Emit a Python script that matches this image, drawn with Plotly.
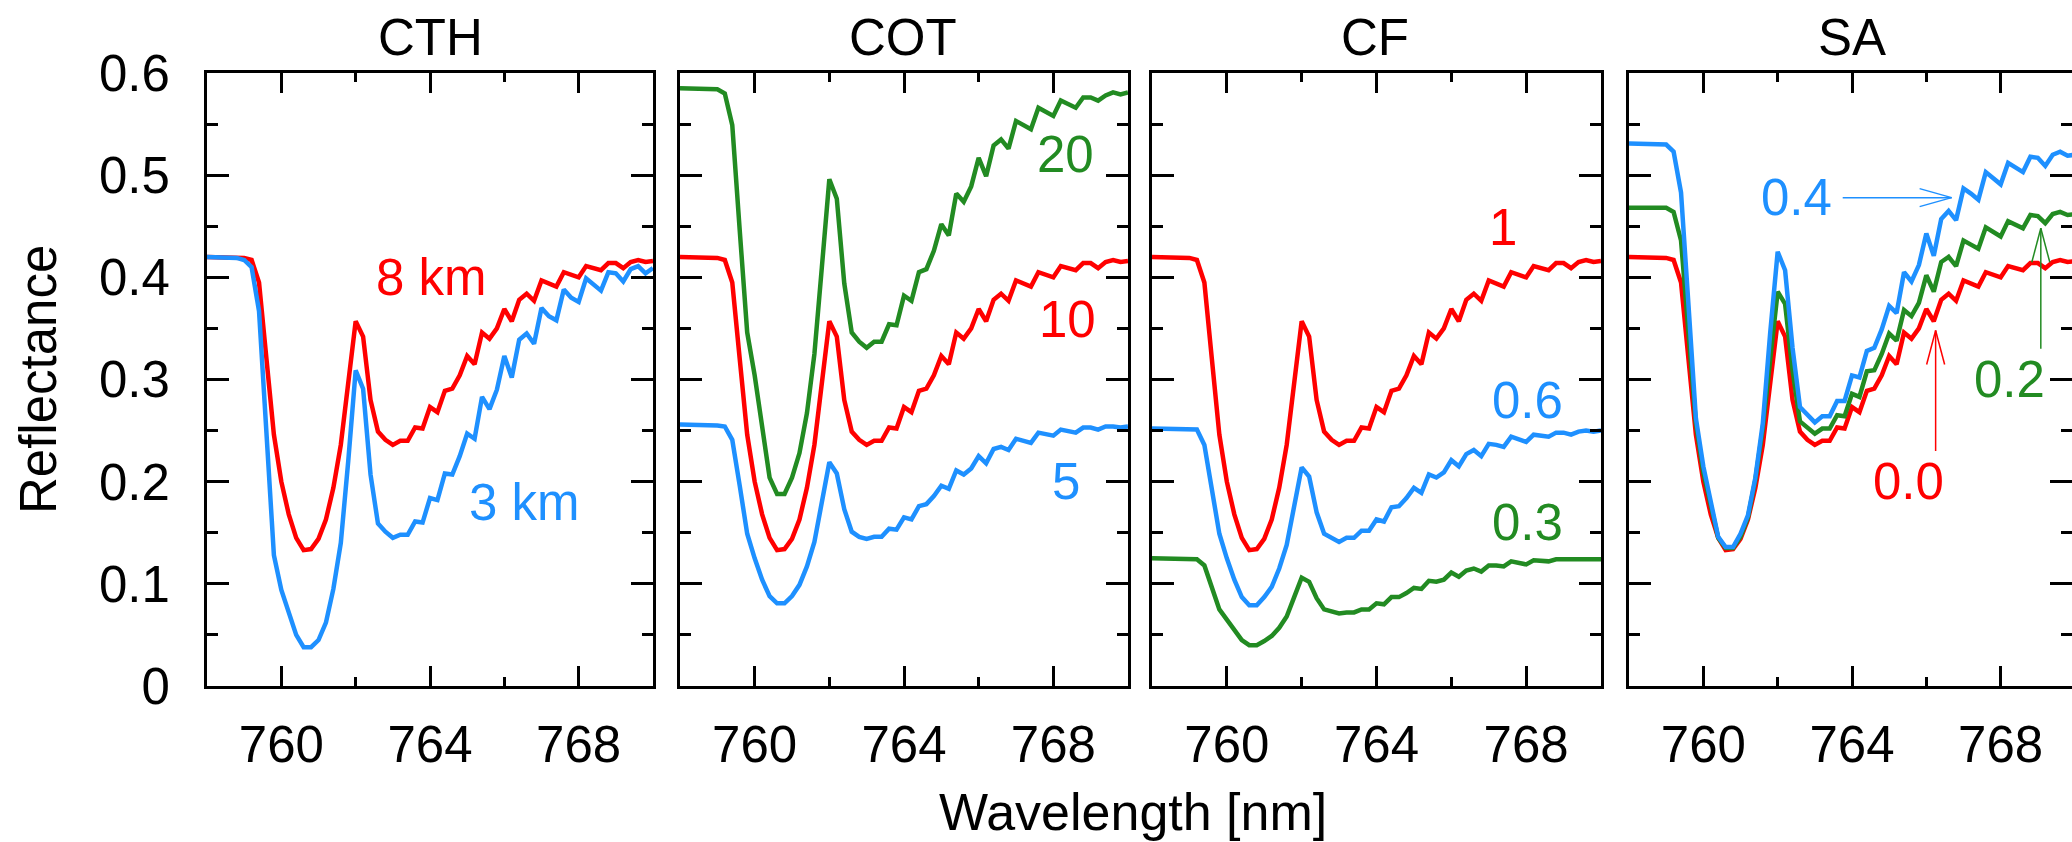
import plotly.graph_objects as go

# ---------------- data ----------------
wavelength = [758.0, 758.2, 758.4, 758.6, 758.8, 759.0, 759.2, 759.4, 759.6, 759.8,
              760.0, 760.2, 760.4, 760.6, 760.8, 761.0, 761.2, 761.4, 761.6, 761.8,
              762.0, 762.2, 762.4, 762.6, 762.8, 763.0, 763.2, 763.4, 763.6, 763.8,
              764.0, 764.2, 764.4, 764.6, 764.8, 765.0, 765.2, 765.4, 765.6, 765.8,
              766.0, 766.2, 766.4, 766.6, 766.8, 767.0, 767.2, 767.4, 767.6, 767.8,
              768.0, 768.2, 768.4, 768.6, 768.8, 769.0, 769.2, 769.4, 769.6, 769.8,
              770.0]

# reference case (CTH 8 km, COT 10, CF 1, SA 0.0)
ref_red = [0.420, 0.420, 0.420, 0.420, 0.420, 0.419, 0.417, 0.395, 0.320, 0.246,
           0.200, 0.168, 0.145, 0.133, 0.134, 0.144, 0.163, 0.194, 0.236, 0.300,
           0.357, 0.342, 0.280, 0.249, 0.241, 0.236, 0.240, 0.240, 0.253, 0.252,
           0.273, 0.268, 0.289, 0.291, 0.304, 0.323, 0.315, 0.346, 0.340, 0.350,
           0.369, 0.357, 0.378, 0.384, 0.377, 0.397, 0.394, 0.391, 0.405, 0.402,
           0.400, 0.411, 0.409, 0.407, 0.414, 0.414, 0.409, 0.415, 0.417, 0.415,
           0.416]

cth_3km = [0.420, 0.420, 0.420, 0.420, 0.419, 0.417, 0.410, 0.367, 0.250, 0.128,
           0.094, 0.073, 0.050, 0.038, 0.038, 0.045, 0.062, 0.095, 0.140, 0.220,
           0.309, 0.291, 0.207, 0.159, 0.151, 0.145, 0.148, 0.148, 0.161, 0.160,
           0.184, 0.182, 0.208, 0.207, 0.225, 0.247, 0.242, 0.283, 0.271, 0.290,
           0.323, 0.302, 0.339, 0.345, 0.335, 0.370, 0.362, 0.358, 0.388, 0.380,
           0.376, 0.399, 0.393, 0.387, 0.405, 0.404, 0.396, 0.408, 0.411, 0.404,
           0.409]

cot_20 = [0.585, 0.585, 0.585, 0.585, 0.585, 0.584, 0.580, 0.549, 0.446, 0.346,
          0.304, 0.252, 0.204, 0.188, 0.188, 0.204, 0.228, 0.267, 0.325, 0.410,
          0.496, 0.477, 0.394, 0.346, 0.337, 0.331, 0.337, 0.337, 0.354, 0.353,
          0.382, 0.377, 0.405, 0.408, 0.426, 0.452, 0.441, 0.482, 0.474, 0.489,
          0.517, 0.499, 0.529, 0.535, 0.526, 0.553, 0.549, 0.545, 0.566, 0.562,
          0.558, 0.573, 0.569, 0.566, 0.576, 0.576, 0.573, 0.578, 0.581, 0.579,
          0.581]

cot_5 = [0.256, 0.256, 0.256, 0.256, 0.256, 0.255, 0.254, 0.241, 0.196, 0.149,
         0.125, 0.104, 0.088, 0.081, 0.081, 0.088, 0.099, 0.117, 0.141, 0.181,
         0.219, 0.208, 0.173, 0.151, 0.146, 0.144, 0.146, 0.146, 0.154, 0.153,
         0.165, 0.163, 0.176, 0.178, 0.186, 0.196, 0.193, 0.211, 0.207, 0.213,
         0.225, 0.218, 0.232, 0.234, 0.231, 0.242, 0.240, 0.238, 0.248, 0.246,
         0.245, 0.251, 0.249, 0.248, 0.253, 0.253, 0.251, 0.254, 0.254, 0.253,
         0.254]

cf_06 = [0.252, 0.252, 0.252, 0.252, 0.252, 0.252, 0.251, 0.236, 0.194, 0.149,
         0.125, 0.104, 0.087, 0.079, 0.079, 0.087, 0.097, 0.115, 0.138, 0.175,
         0.214, 0.205, 0.170, 0.149, 0.145, 0.141, 0.145, 0.145, 0.152, 0.152,
         0.163, 0.161, 0.175, 0.176, 0.184, 0.194, 0.189, 0.207, 0.204, 0.209,
         0.221, 0.215, 0.227, 0.231, 0.225, 0.237, 0.236, 0.234, 0.244, 0.241,
         0.239, 0.246, 0.245, 0.244, 0.248, 0.248, 0.246, 0.249, 0.250, 0.249,
         0.250]

cf_03 = [0.125, 0.125, 0.125, 0.125, 0.125, 0.125, 0.124, 0.118, 0.096, 0.075,
         0.065, 0.054, 0.045, 0.040, 0.040, 0.044, 0.049, 0.057, 0.068, 0.087,
         0.106, 0.102, 0.086, 0.075, 0.073, 0.071, 0.072, 0.072, 0.075, 0.075,
         0.081, 0.080, 0.087, 0.087, 0.091, 0.096, 0.095, 0.103, 0.102, 0.104,
         0.111, 0.107, 0.113, 0.115, 0.112, 0.118, 0.118, 0.117, 0.122, 0.120,
         0.119, 0.123, 0.122, 0.122, 0.124, 0.124, 0.123, 0.124, 0.124, 0.124,
         0.124]

sa_04 = [0.531, 0.531, 0.531, 0.531, 0.531, 0.530, 0.523, 0.483, 0.373, 0.262,
         0.215, 0.181, 0.146, 0.136, 0.136, 0.149, 0.167, 0.204, 0.257, 0.346,
         0.425, 0.407, 0.331, 0.273, 0.265, 0.258, 0.264, 0.264, 0.279, 0.279,
         0.304, 0.302, 0.328, 0.331, 0.349, 0.372, 0.365, 0.405, 0.396, 0.412,
         0.443, 0.421, 0.457, 0.465, 0.456, 0.487, 0.482, 0.476, 0.503, 0.497,
         0.491, 0.512, 0.508, 0.503, 0.518, 0.517, 0.509, 0.520, 0.523, 0.519,
         0.520]

sa_02 = [0.468, 0.468, 0.468, 0.468, 0.468, 0.468, 0.464, 0.436, 0.346, 0.257,
         0.209, 0.178, 0.145, 0.135, 0.135, 0.146, 0.165, 0.202, 0.252, 0.320,
         0.386, 0.374, 0.309, 0.259, 0.253, 0.247, 0.252, 0.252, 0.265, 0.264,
         0.286, 0.283, 0.308, 0.309, 0.325, 0.345, 0.338, 0.368, 0.362, 0.375,
         0.402, 0.386, 0.415, 0.420, 0.411, 0.436, 0.432, 0.428, 0.449, 0.445,
         0.440, 0.455, 0.452, 0.448, 0.461, 0.460, 0.453, 0.462, 0.464, 0.461,
         0.462]

panel_titles = ["CTH", "COT", "CF", "SA"]
x_tick_vals = [760, 764, 768]
x_tick_text = ["760", "764", "768"]
x_minor_vals = [762, 766]
y_tick_vals = [0, 0.1, 0.2, 0.3, 0.4, 0.5, 0.6]
y_tick_text = ["0", "0.1", "0.2", "0.3", "0.4", "0.5", "0.6"]
y_minor_vals = [0.05, 0.15, 0.25, 0.35, 0.45, 0.55]

# curve labels: (panel, text, x, y, colour-key)
curve_labels = [
    (1, "8 km", 764.05, 0.400, "red"),
    (1, "3 km", 766.53, 0.180, "blue"),
    (2, "20", 768.33, 0.520, "green"),
    (2, "10", 768.37, 0.359, "red"),
    (2, "5", 768.33, 0.200, "blue"),
    (3, "1", 767.38, 0.449, "red"),
    (3, "0.6", 768.03, 0.279, "blue"),
    (3, "0.3", 768.03, 0.160, "green"),
    (4, "0.4", 762.52, 0.478, "blue"),
    (4, "0.2", 768.24, 0.300, "green"),
    (4, "0.0", 765.51, 0.200, "red"),
]
# arrows in SA panel: (tail x, tail y, head x, head y, colour-key)
sa_arrows = [
    (763.75, 0.478, 766.68, 0.478, "blue"),
    (769.08, 0.330, 769.08, 0.448, "green"),
    (766.25, 0.230, 766.25, 0.348, "red"),
]

# ---------------- style ----------------
COL = {"red": "#ff0000", "blue": "#1e90ff", "green": "#228b22"}
FONT = "Liberation Sans, Arial, Helvetica, sans-serif"
FS = 51
W, H = 2072, 842
px_left = [207, 680, 1152, 1629]
px_right = [653, 1128, 1601, 2072]
PANEL_W = 446
x_ranges = [[758, 770], [758, 770], [758, 770], [758, 758 + 12 * (2072 - 1629) / PANEL_W]]
y_top, y_bot = 73, 686

panels = [
    [(ref_red, "red"), (cth_3km, "blue")],
    [(cot_20, "green"), (ref_red, "red"), (cot_5, "blue")],
    [(ref_red, "red"), (cf_06, "blue"), (cf_03, "green")],
    [(ref_red, "red"), (sa_02, "green"), (sa_04, "blue")],
]

fig = go.Figure()
for i, curves in enumerate(panels):
    sfx = "" if i == 0 else str(i + 1)
    for ys, ck in curves:
        fig.add_trace(go.Scatter(x=wavelength, y=ys, mode="lines",
                                 line=dict(color=COL[ck], width=4.5),
                                 xaxis="x" + sfx, yaxis="y" + sfx,
                                 showlegend=False, hoverinfo="skip"))

layout = dict(width=W, height=H, margin=dict(l=0, r=0, t=0, b=0, autoexpand=False),
              paper_bgcolor="white", plot_bgcolor="white",
              font=dict(family=FONT, size=FS, color="black"),
              showlegend=False)

ydom = [1 - y_bot / H, 1 - y_top / H]
for i in range(4):
    sfx = "" if i == 0 else str(i + 1)
    layout["xaxis" + sfx] = dict(
        domain=[px_left[i] / W, px_right[i] / W], range=x_ranges[i],
        anchor="y" + sfx, showgrid=False, zeroline=False, automargin=False,
        showline=True, linecolor="black", linewidth=3, mirror="ticks",
        ticks="inside", ticklen=20, tickwidth=3, tickcolor="black",
        tickmode="array", tickvals=x_tick_vals, ticktext=x_tick_text,
        tickfont=dict(family=FONT, size=FS), ticklabelstandoff=12,
        minor=dict(tickmode="array", tickvals=x_minor_vals, ticks="inside",
                   ticklen=9, tickwidth=3, tickcolor="black", showgrid=False),
    )
    layout["yaxis" + sfx] = dict(
        domain=ydom, range=[0, 0.6], anchor="x" + sfx,
        showgrid=False, zeroline=False, automargin=False,
        showline=True, linecolor="black", linewidth=3, mirror="ticks",
        ticks="inside", ticklen=22, tickwidth=3, tickcolor="black",
        tickmode="array", tickvals=y_tick_vals, ticktext=y_tick_text,
        showticklabels=(i == 0),
        tickfont=dict(family=FONT, size=FS), ticklabelstandoff=24,
        minor=dict(tickmode="array", tickvals=y_minor_vals,
                   ticks="inside", ticklen=11, tickwidth=3, tickcolor="black",
                   showgrid=False),
    )

annotations = []
for i, t in enumerate(panel_titles):
    annotations.append(dict(text=t, xref="paper", yref="paper",
                            x=(px_left[i] + PANEL_W / 2) / W, y=1 - 37 / H,
                            xanchor="center", yanchor="middle", showarrow=False,
                            font=dict(family=FONT, size=FS, color="black")))
annotations.append(dict(text="Reflectance", xref="paper", yref="paper",
                        x=39 / W, y=1 - 380 / H, textangle=-90,
                        xanchor="center", yanchor="middle", showarrow=False,
                        font=dict(family=FONT, size=FS, color="black")))
annotations.append(dict(text="Wavelength [nm]", xref="paper", yref="paper",
                        x=1133 / W, y=1 - 812 / H,
                        xanchor="center", yanchor="middle", showarrow=False,
                        font=dict(family=FONT, size=FS + 1, color="black")))
for p, t, lx, ly, ck in curve_labels:
    sfx = "" if p == 1 else str(p)
    annotations.append(dict(text=t, xref="x" + sfx, yref="y" + sfx, x=lx, y=ly,
                            xanchor="center", yanchor="middle", showarrow=False,
                            font=dict(family=FONT, size=FS, color=COL[ck])))
layout["annotations"] = annotations

shapes = []
for tx, ty, hx, hy, ck in sa_arrows:
    c = COL[ck]
    shapes.append(dict(type="line", xref="x4", yref="y4", x0=tx, y0=ty, x1=hx, y1=hy,
                       line=dict(color=c, width=1.5)))
    if ty == hy:  # horizontal, pointing right
        barbs = [(-32, 9), (-32, -9)]
    else:  # vertical, pointing up
        barbs = [(-9, -34), (9, -34)]
    for bx, by in barbs:
        shapes.append(dict(type="line", xref="x4", yref="y4",
                           xsizemode="pixel", ysizemode="pixel",
                           xanchor=hx, yanchor=hy, x0=0, y0=0, x1=bx, y1=by,
                           line=dict(color=c, width=1.5)))
layout["shapes"] = shapes

fig.update_layout(**layout)
fig.write_html("out.html")
